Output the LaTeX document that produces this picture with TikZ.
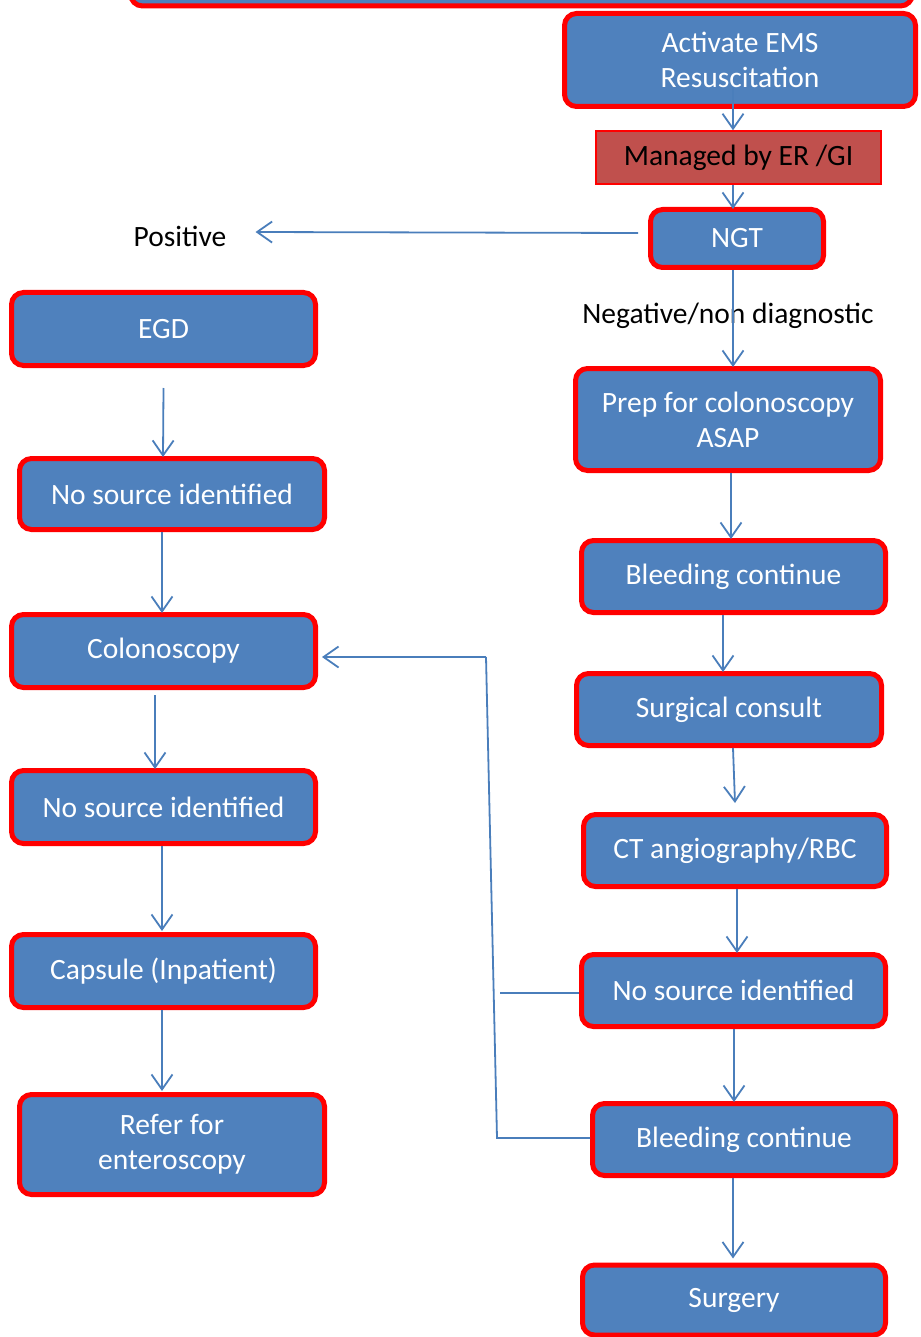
\documentclass[tikz,border=0pt]{standalone}
\usepackage{fontspec}
\setmainfont{Carlito}
\usetikzlibrary{arrows.meta}
\definecolor{boxblue}{HTML}{4F81BD}
\definecolor{boxred}{HTML}{FF0000}
\definecolor{mgdfill}{HTML}{C0504D}
\definecolor{linkblue}{HTML}{4A7EBB}
\tikzset{
  flowbox/.style={rectangle, rounded corners=12pt, draw=boxred, line width=5pt, fill=boxblue,
    text=white, align=center, inner sep=0pt, font=\fontsize{29.5}{35}\selectfont},
  mgdbox/.style={rectangle, draw=boxred, line width=1.5pt, fill=mgdfill, text=black,
    inner sep=0pt, font=\fontsize{29.5}{35}\selectfont},
  plainlabel/.style={text=black, inner sep=0pt, font=\fontsize{29.5}{35}\selectfont},
  link/.style={draw=linkblue, line width=1.8pt},
  arr/.style={link, -{Straight Barb[length=15pt,width=21pt,line width=1.8pt]}}
}
\begin{document}
\begin{tikzpicture}[x=1pt,y=-1pt]
\useasboundingbox (0,0) rectangle (920,1337);
% nodes
\node[flowbox, minimum width=782pt, minimum height=52pt] (top) at (521.5,-20) {};
\node[flowbox, minimum width=351pt, minimum height=93pt] (act) at (740,60) {Activate EMS\\Resuscitation};
\node[mgdbox, minimum width=285pt, minimum height=53pt] (mgd) at (738.5,157.5) {Managed by ER /GI};
\node[flowbox, minimum width=173pt, minimum height=58pt] (ngt) at (737,238.5) {NGT};
\node[plainlabel] (pos) at (180,236) {Positive};
\node[plainlabel] (neg) at (728,316) {Negative/non diagnostic};
\node[flowbox, minimum width=304pt, minimum height=73pt] (egd) at (163.5,329) {EGD};
\node[flowbox, minimum width=305pt, minimum height=71pt] (ns1) at (172,494) {No source identified};
\node[flowbox, minimum width=304pt, minimum height=73pt] (col) at (163.5,651) {Colonoscopy};
\node[flowbox, minimum width=304pt, minimum height=73pt] (ns2) at (163.5,807) {No source identified};
\node[flowbox, minimum width=304pt, minimum height=73pt] (cap) at (163.5,971) {Capsule (Inpatient)};
\node[flowbox, minimum width=305pt, minimum height=100pt] (ref) at (172,1144.5) {Refer for\\enteroscopy};
\node[flowbox, minimum width=305pt, minimum height=102pt] (prep) at (728,419.5) {Prep for colonoscopy\\ASAP};
\node[flowbox, minimum width=304pt, minimum height=72pt] (bc1) at (733.5,576.5) {Bleeding continue};
\node[flowbox, minimum width=305pt, minimum height=72pt] (surg) at (729,709.5) {Surgical consult};
\node[flowbox, minimum width=303pt, minimum height=72pt] (ct) at (735,850.5) {CT angiography/RBC};
\node[flowbox, minimum width=304pt, minimum height=72pt] (nsR) at (733.5,990.5) {No source identified};
\node[flowbox, minimum width=303pt, minimum height=72pt] (bc2) at (744,1139.5) {Bleeding continue};
\node[flowbox, minimum width=303pt, minimum height=70pt] (sury) at (734,1300) {Surgery};
% free ends of the feedback lines
\coordinate (fb1) at (486,657);
\coordinate (fb2) at (497,1138);
\coordinate (fb3) at (500,993);
% connectors, right column
\draw[arr] ([xshift=-7pt,yshift=22pt]act.south) -- ([xshift=-5.5pt]mgd.north);
\draw[arr] ([xshift=-5.5pt]mgd.south) -- ([xshift=-4pt,yshift=-2pt]ngt.north);
\draw[arr] ([xshift=-10pt,yshift=5.5pt]ngt.west) -- ([xshift=29pt,yshift=4pt]pos.east);
\draw[arr] ([xshift=-4pt]ngt.south) -- ([xshift=5pt,yshift=-1pt]prep.north);
\draw[arr] ([xshift=3pt]prep.south) -- ([xshift=-2.5pt,yshift=-1pt]bc1.north);
\draw[arr] ([xshift=-10.5pt]bc1.south) -- ([xshift=-6pt,yshift=-1pt]surg.north);
\draw[arr] ([xshift=4pt]surg.south) -- ([xshift=0pt,yshift=9pt]ct.north);
\draw[arr] ([xshift=2pt]ct.south) -- ([xshift=3.5pt,yshift=-1pt]nsR.north);
\draw[arr] ([xshift=0.5pt]nsR.south) -- ([xshift=-10pt,yshift=-1pt]bc2.north);
\draw[arr] ([xshift=-11pt]bc2.south) -- ([xshift=-1pt,yshift=4pt]sury.north);
% connectors, left column
\draw[arr] ([yshift=-20pt]egd.south) -- ([xshift=-9pt,yshift=-1pt]ns1.north);
\draw[arr] ([xshift=-10pt]ns1.south) -- ([xshift=-1.5pt,yshift=-1pt]col.north);
\draw[arr] ([xshift=-8.5pt,yshift=-5pt]col.south) -- ([xshift=-8.5pt,yshift=-1pt]ns2.north);
\draw[arr] ([xshift=-1.5pt]ns2.south) -- ([xshift=-1.5pt,yshift=1pt]cap.north);
\draw[arr] ([xshift=-1.5pt]cap.south) -- ([xshift=-10pt,yshift=1pt]ref.north);
% feedback
\draw[link] ([yshift=1.5pt]bc2.west) -- (fb2) -- (fb1);
\draw[arr] (fb1) -- ([xshift=4pt,yshift=-6pt]col.east);
\draw[link] ([yshift=-2.5pt]nsR.west) -- (fb3);
\end{tikzpicture}
\end{document}
